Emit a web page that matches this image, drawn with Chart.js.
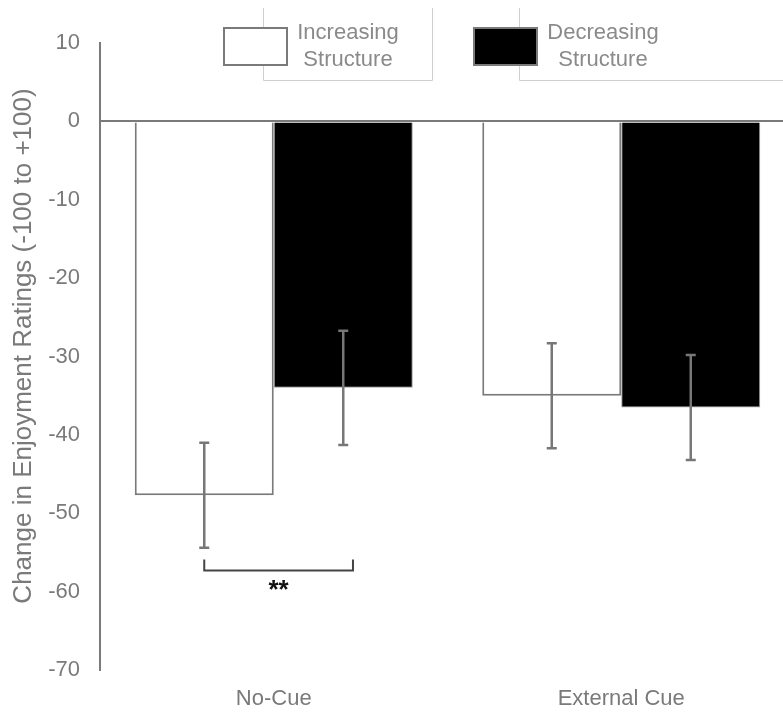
<!DOCTYPE html>
<html>
<head>
<meta charset="utf-8">
<script src="https://cdn.jsdelivr.net/npm/chart.js@4"></script>
<style>
  html, body { margin: 0; padding: 0; background: #fff; overflow: hidden; }
  #chart { display: block; }
</style>
</head>
<body>
<canvas id="chart" width="795" height="713"></canvas>
<script>
// data
const categories = ["No-Cue", "External Cue"];
const seriesNames = ["Increasing\nStructure", "Decreasing\nStructure"];
const increasing = [-47.7, -35.0];
const decreasing = [-34.0, -36.5];
const increasingErr = [6.7, 6.7];
const decreasingErr = [7.3, 6.7];
const yMin = -70;
const yMax = 10;
const yStep = 10;
const yTitle = "Change in Enjoyment Ratings (-100 to +100)";
// significance bracket between the two No-Cue bars
const sigLevel = -57.3;
const sigLabel = "**";

const grey = "#7a7a7a";
const textGrey = "#7a7a7a";
const fontFamily = "'Liberation Sans', Arial, Helvetica, sans-serif";

// error bars, bracket, axis title and the legend are drawn by hand
const extrasPlugin = {
  id: "extras",
  afterDatasetsDraw(chart) {
    const ctx = chart.ctx;
    const y = chart.scales.y;
    const errs = [increasingErr, decreasingErr];
    ctx.save();
    ctx.strokeStyle = "#777";
    ctx.lineWidth = 2.5;
    chart.data.datasets.forEach((ds, di) => {
      const meta = chart.getDatasetMeta(di);
      meta.data.forEach((bar, i) => {
        const v = ds.data[i];
        const top = y.getPixelForValue(v + errs[di][i]);
        const bot = y.getPixelForValue(v - errs[di][i]);
        ctx.beginPath();
        ctx.moveTo(bar.x, top);
        ctx.lineTo(bar.x, bot);
        ctx.moveTo(bar.x - 5, top);
        ctx.lineTo(bar.x + 5, top);
        ctx.moveTo(bar.x - 5, bot);
        ctx.lineTo(bar.x + 5, bot);
        ctx.stroke();
      });
    });

    // bracket
    const a = chart.getDatasetMeta(0).data[0];
    const b = chart.getDatasetMeta(1).data[0];
    const x1 = a.x;
    const x2 = b.x + b.width * 0.07;
    const by = y.getPixelForValue(sigLevel);
    ctx.strokeStyle = "#444";
    ctx.lineWidth = 2;
    ctx.beginPath();
    ctx.moveTo(x1, by - 11);
    ctx.lineTo(x1, by);
    ctx.lineTo(x2, by);
    ctx.lineTo(x2, by - 11);
    ctx.stroke();
    ctx.fillStyle = "#111";
    ctx.font = "bold 26px " + fontFamily;
    ctx.textAlign = "center";
    ctx.textBaseline = "alphabetic";
    ctx.fillText(sigLabel, (x1 + x2) / 2, by + 28);

    // y axis title
    ctx.save();
    ctx.translate(24, 346);
    ctx.rotate(-Math.PI / 2);
    ctx.fillStyle = textGrey;
    ctx.font = "26px " + fontFamily;
    ctx.textAlign = "center";
    ctx.textBaseline = "middle";
    ctx.fillText(yTitle, 0, 0);
    ctx.restore();

    // legend
    const boxes = [[224, 28], [474, 28]];
    const textX = [348, 603];
    const frames = [[263, 432], [519, 800]];
    ctx.strokeStyle = "#cfcfcf";
    ctx.lineWidth = 1;
    frames.forEach(f => {
      ctx.beginPath();
      ctx.moveTo(f[0] + 0.5, 8);
      ctx.lineTo(f[0] + 0.5, 80.5);
      ctx.lineTo(f[1] + 0.5, 80.5);
      ctx.lineTo(f[1] + 0.5, 8);
      ctx.stroke();
    });
    chart.data.datasets.forEach((ds, di) => {
      const [bx, bty] = boxes[di];
      ctx.fillStyle = ds.backgroundColor;
      ctx.fillRect(bx, bty, 63, 37);
      ctx.strokeStyle = grey;
      ctx.lineWidth = 2;
      ctx.strokeRect(bx, bty, 63, 37);
      ctx.fillStyle = "#8a8a8a";
      ctx.font = "22px " + fontFamily;
      ctx.textAlign = "center";
      ctx.textBaseline = "middle";
      ds.label.split("\n").forEach((line, li) => {
        ctx.fillText(line, textX[di], 33 + li * 27);
      });
    });
    ctx.restore();
  }
};

const ctx = document.getElementById("chart").getContext("2d");

const chart = new Chart(ctx, {
  type: "bar",
  data: {
    labels: categories,
    datasets: [
      {
        label: seriesNames[0],
        data: increasing,
        backgroundColor: "#ffffff",
        borderColor: grey,
        borderWidth: 2,
        borderSkipped: "start"
      },
      {
        label: seriesNames[1],
        data: decreasing,
        backgroundColor: "#000000",
        borderColor: "#9a9a9a",
        borderWidth: 1,
        borderSkipped: "start"
      }
    ]
  },
  options: {
    responsive: false,
    animation: false,
    devicePixelRatio: 1,
    layout: { padding: { top: 43, left: 0, right: 0, bottom: 0 } },
    plugins: {
      legend: { display: false },
      tooltip: { enabled: false }
    },
    datasets: {
      bar: { categoryPercentage: 0.8, barPercentage: 1.0 }
    },
    scales: {
      x: {
        grid: { display: false },
        border: { display: false },
        ticks: {
          color: textGrey,
          padding: 8,
          font: { family: fontFamily, size: 22 }
        },
        afterFit(scale) { scale.height = 43; }
      },
      y: {
        min: yMin,
        max: yMax,
        ticks: {
          stepSize: yStep,
          color: textGrey,
          padding: 20,
          font: { family: fontFamily, size: 22 }
        },
        grid: {
          drawTicks: false,
          lineWidth: 2,
          color: (c) => (c.tick && c.tick.value === 0 ? grey : "rgba(0,0,0,0)")
        },
        border: { color: grey, width: 2 },
        afterFit(scale) { scale.width = 100; }
      }
    }
  },
  plugins: [extrasPlugin]
});
</script>
</body>
</html>
